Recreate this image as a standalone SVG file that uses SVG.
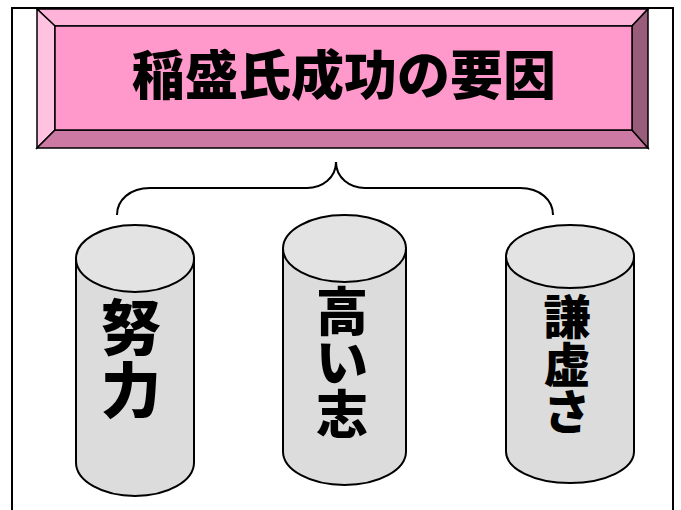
<svg xmlns="http://www.w3.org/2000/svg" width="681" height="510" viewBox="0 0 681 510">
<style>
.frame{fill:#fff;stroke:#000;stroke-width:2}
.bev{stroke:#000;stroke-width:1.5;stroke-linejoin:miter}
.cyl{fill:#DCDCDC;stroke:#000;stroke-width:2}
.cyltop{fill:#E3E3E3;stroke:#000;stroke-width:2}
.jp{font-family:"Noto Sans CJK JP","Noto Sans CJK SC",sans-serif;font-weight:900;fill:#000;text-anchor:middle}
.brace{fill:none;stroke:#000;stroke-width:2}
</style>
<rect x="0" y="0" width="681" height="510" fill="#fff"/>
<rect class="frame" x="12" y="8" width="661" height="520"/>
<g id="title">
  <polygon class="bev" fill="#FFB3D9" points="37,9 648,9 632,26 55,26"/>
  <polygon class="bev" fill="#FFC2E0" points="37,9 55,26 55,130 37,148"/>
  <polygon class="bev" fill="#CC7AA3" points="37,148 55,130 632,130 648,148"/>
  <polygon class="bev" fill="#995C7A" points="648,9 648,148 632,130 632,26"/>
  <rect class="bev" fill="#FF99CC" x="55" y="26" width="577" height="104"/>
  <text class="jp" x="344" y="95" font-size="53">稲盛氏成功の要因</text>
</g>
<g id="connectors">
  <path class="brace" d="M117,215 C117,200 130,188 150,188 L307,188 C322,188 336,178 336,162 C336,178 350,188 365,188 L520,188 C540,188 553,200 553,215"/>
</g>
<g id="node-doryoku">
  <path class="cyl" d="M76,258.5 L76,462.5 A59,33.5 0 0 0 194,462.5 L194,258.5 Z"/>
  <ellipse class="cyltop" cx="135" cy="258.5" rx="59" ry="33.5"/>
  <text class="jp" font-size="60"><tspan x="131" y="350">努</tspan><tspan x="131" y="413">力</tspan></text>
</g>
<g id="node-takai">
  <path class="cyl" d="M283,248.5 L283,451.5 A61.5,33.5 0 0 0 406,451.5 L406,248.5 Z"/>
  <ellipse class="cyltop" cx="344.5" cy="248.5" rx="61.5" ry="33.5"/>
  <text class="jp" font-size="52"><tspan x="342" y="331">高</tspan><tspan x="342" y="382">い</tspan><tspan x="342" y="434">志</tspan></text>
</g>
<g id="node-kenkyo">
  <path class="cyl" d="M506,256.5 L506,451.5 A64,31.5 0 0 0 634,451.5 L634,256.5 Z"/>
  <ellipse class="cyltop" cx="570" cy="256.5" rx="64" ry="31.5"/>
  <text class="jp" font-size="47"><tspan x="567" y="334">謙</tspan><tspan x="567" y="382">虚</tspan><tspan x="567" y="429">さ</tspan></text>
</g>
</svg>
